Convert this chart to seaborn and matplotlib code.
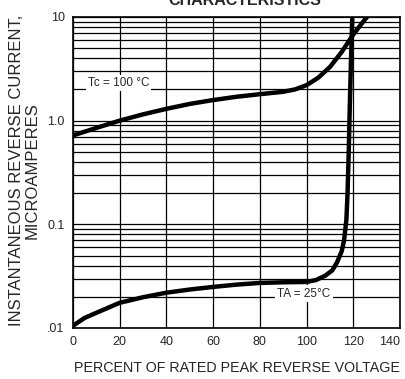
import numpy as np
import pandas as pd
import matplotlib
matplotlib.use("Agg")
import matplotlib.pyplot as plt
import seaborn as sns

# ── Data ────────────────────────────────────────────────────
tc_pct = [0, 10, 20, 30, 40, 50, 60, 70, 80, 90, 95, 100, 105, 110, 115, 120, 125, 127.5]
tc_cur = [0.72, 0.85, 1.0, 1.15, 1.3, 1.45, 1.58, 1.7, 1.8, 1.9, 2.0, 2.2, 2.6, 3.3, 4.6, 6.8, 9.5, 11.0]

ta_pct = [0, 5, 10, 20, 30, 40, 50, 60, 70, 80, 90, 100, 104, 108, 111, 113,
          115, 116, 117, 117.5, 118, 118.5, 119, 119.5]
ta_cur = [0.0105, 0.0125, 0.014, 0.0175, 0.0198, 0.0219, 0.0235, 0.0249, 0.0262,
          0.0272, 0.0276, 0.0278, 0.029, 0.032, 0.036, 0.043, 0.055, 0.07,
          0.11, 0.2, 0.5, 1.5, 4.0, 9.5]

x_ticks = [0, 20, 40, 60, 80, 100, 120, 140]
y_ticks = [0.01, 0.1, 1.0, 10]
y_ticklabels = [".01", "0.1", "1.0", "10"]

df_tc = pd.DataFrame({"pct": tc_pct, "cur": tc_cur})
df_ta = pd.DataFrame({"pct": ta_pct, "cur": ta_cur})

# ── Plot ────────────────────────────────────────────────────
sns.set_style("white")
plt.rcParams["font.family"] = ["Liberation Sans", "DejaVu Sans"]

fig = plt.figure(figsize=(4.05, 3.79), dpi=100)
ax = fig.add_axes([0.180, 0.1346, 0.808, 0.8206])

sns.lineplot(data=df_tc, x="pct", y="cur", ax=ax, color="black", lw=3.2,
             estimator=None, sort=False, zorder=4)
sns.lineplot(data=df_ta, x="pct", y="cur", ax=ax, color="black", lw=3.2,
             estimator=None, sort=False, zorder=4)

ax.set_yscale("log")
ax.set_xlim(0, 140)
ax.set_ylim(0.01, 10)

ax.set_xticks(x_ticks)
ax.set_xticklabels([str(t) for t in x_ticks], fontsize=9)
ax.get_xticklabels()[-1].set_ha("right")
ax.set_yticks(y_ticks)
ax.set_yticklabels(y_ticklabels, fontsize=9)
ax.yaxis.set_minor_locator(matplotlib.ticker.LogLocator(base=10, subs=np.arange(2, 10)))
ax.yaxis.set_minor_formatter(matplotlib.ticker.NullFormatter())
ax.tick_params(which="both", length=0, pad=6)

ax.grid(True, which="both", axis="y", color="black", lw=0.9)
ax.grid(True, which="major", axis="x", color="black", lw=0.9)
ax.set_axisbelow(True)
for s in ax.spines.values():
    s.set_color("black")
    s.set_linewidth(1.2)

ax.set_xlabel("PERCENT OF RATED PEAK REVERSE VOLTAGE", fontsize=10.3, labelpad=9)
ax.set_ylabel("")

fig.text(0.059, 0.551, "INSTANTANEOUS REVERSE CURRENT,\nMICROAMPERES",
         rotation=90, ha="center", va="center", fontsize=12, linespacing=1.05)
fig.text(0.605, 1 - 5 / 379, "CHARACTERISTICS", ha="center", va="baseline",
         fontsize=11.5, weight="bold")

box = dict(facecolor="white", edgecolor="none", pad=1.5)
ax.text(6.4, 2.3, "Tc = 100 °C", fontsize=8.5, va="center", ha="left", bbox=box, zorder=5)
ax.text(87.5, 0.0215, "TA = 25°C", fontsize=8.5, va="center", ha="left", bbox=box, zorder=5)

plt.savefig("out.png", dpi=100)
plt.close()
